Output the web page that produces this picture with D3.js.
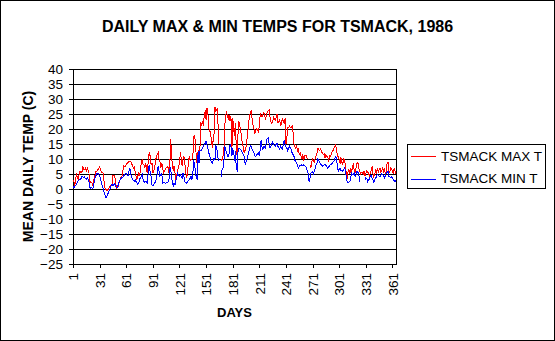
<!DOCTYPE html>
<html><head><meta charset="utf-8">
<script src="https://cdn.jsdelivr.net/npm/d3@7"></script>
<style>html,body{margin:0;padding:0;background:#fff;} svg{display:block;}</style>
</head><body>
<svg id="chart" width="555" height="341"></svg>
<script>
const chartTitle = "DAILY MAX & MIN TEMPS FOR TSMACK, 1986";
const xTitle = "DAYS";
const yTitle = "MEAN DAILY TEMP (C)";
const seriesNames = ["TSMACK MAX T", "TSMACK MIN T"];
const seriesColors = ["#ff0000", "#0000ff"];
const xTickValues = [1,31,61,91,121,151,181,211,241,271,301,331,361];
const yTickValues = [-25,-20,-15,-10,-5,0,5,10,15,20,25,30,35,40];

const maxT = [
3.1,2.5,1.0,3.5,4.8,4.0,3.0,5.0,6.0,5.5,
5.5,7.8,6.4,6.5,7.0,6.0,7.0,6.2,5.3,2.0,
2.5,2.2,1.4,2.2,3.7,4.8,5.9,6.0,6.4,7.0,
7.3,6.4,5.5,5.5,5.3,2.5,0.3,-0.2,-0.4,-0.4,
0.0,0.5,0.9,1.2,1.4,4.4,4.5,4.4,2.2,0.3,
0.5,0.9,2.2,3.1,3.8,4.2,5.3,7.8,7.5,7.6,
8.1,8.5,8.9,9.2,9.3,9.3,8.5,7.8,7.0,7.3,
5.9,4.4,3.3,4.2,5.3,4.4,6.4,8.7,10.0,8.1,
8.1,7.0,8.7,6.2,5.3,10.7,12.2,10.9,8.1,8.7,
5.3,6.0,7.0,9.2,10.9,11.5,12.2,10.0,9.2,7.0,
8.7,7.0,5.3,5.8,6.4,7.0,7.2,7.6,5.3,6.7,
16.7,12.6,7.0,6.4,7.8,5.3,3.1,4.8,6.4,7.5,
8.7,12.2,10.3,7.6,10.0,10.9,8.7,5.9,3.7,5.3,
8.7,10.9,9.5,9.8,10.0,10.3,17.6,17.8,15.3,10.3,
8.1,13.0,10.9,13.1,22.2,21.4,22.2,21.1,25.3,25.9,
23.1,27.0,25.3,20.3,19.5,18.7,16.4,13.7,16.4,18.7,
27.3,25.9,26.4,27.0,15.0,null,null,9.5,9.8,11.0,
12.6,20.9,24.5,25.9,24.5,23.5,24.8,22.6,24.2,12.0,
23.7,20.0,17.6,22.0,14.0,10.9,18.7,22.5,21.0,19.8,
16.4,15.3,13.5,12.0,13.0,14.0,16.5,19.0,22.0,24.5,
25.5,26.0,23.0,21.0,20.0,18.5,19.5,20.0,19.5,19.0,
21.0,25.0,24.5,24.0,25.0,25.5,24.5,23.5,24.5,26.0,
26.0,26.5,24.0,22.5,22.0,22.5,24.0,23.5,23.0,24.0,
25.0,22.0,22.5,23.0,21.0,22.0,23.5,22.5,22.0,23.5,
15.0,17.0,20.5,20.5,21.0,20.5,20.5,21.0,19.0,15.0,
14.0,13.5,14.5,12.5,13.5,11.5,12.0,11.0,10.0,11.5,
9.5,11.0,11.2,11.3,10.0,null,null,8.0,7.0,9.0,
10.0,9.5,9.0,10.5,11.0,12.0,13.5,13.2,12.8,13.3,
12.5,12.0,11.5,11.8,10.5,11.5,11.0,11.0,9.0,11.0,
10.8,11.5,12.5,12.8,13.5,14.0,15.0,12.5,11.5,10.5,
10.0,8.5,10.5,9.0,8.0,10.0,9.5,8.0,5.0,3.5,
6.0,6.5,5.0,7.0,5.5,7.5,8.5,6.0,5.5,7.0,
8.5,9.0,7.0,6.0,5.0,5.5,5.5,5.0,6.0,4.5,
5.0,6.0,5.5,5.5,4.0,5.5,6.0,7.5,5.0,4.0,
5.0,6.0,5.0,7.0,5.5,6.5,7.0,5.5,6.0,7.0,
6.0,7.0,5.0,6.0,8.5,9.0,6.0,5.5,7.0,6.5,
6.0,5.0,7.0,6.0,5.0
];

const minT = [
0.9,0.3,1.0,1.2,1.5,2.5,2.8,3.1,3.0,3.5,
4.2,4.0,3.8,4.0,3.5,3.1,3.7,3.2,2.5,0.5,
0.3,0.5,0.2,0.6,2.5,4.0,4.5,5.1,5.2,4.8,
4.5,3.5,2.2,1.0,0.2,-1.0,-2.0,-2.8,-2.7,-1.8,
-1.2,-0.4,0.3,1.0,1.6,1.2,1.5,1.8,1.0,0.5,
0.5,1.4,2.5,3.1,3.4,3.7,4.0,4.2,4.8,5.0,
5.1,4.5,4.4,5.9,7.0,5.3,4.0,3.1,2.8,2.5,
3.1,2.5,2.0,1.4,2.0,3.1,3.8,4.2,4.8,3.1,
2.5,2.2,2.5,2.3,2.0,7.0,7.8,5.5,4.2,1.4,
1.1,1.5,2.0,2.5,3.5,5.3,7.6,6.0,4.2,4.8,
5.3,2.0,2.2,2.2,2.0,2.0,2.2,2.3,2.5,6.4,
7.0,4.0,2.0,0.9,2.0,1.4,3.0,4.2,5.3,4.5,
4.2,4.8,4.2,3.7,5.3,4.0,2.5,2.0,1.8,2.5,
2.8,3.1,3.6,4.2,3.1,5.0,9.2,8.7,5.3,4.0,
3.1,12.6,8.7,12.6,12.8,13.1,13.7,14.2,14.8,15.3,
15.9,14.8,13.7,12.0,11.4,9.8,8.9,8.7,9.5,10.3,
9.8,14.2,13.7,11.4,9.2,null,null,4.0,6.4,7.0,
8.5,14.2,13.0,12.4,11.0,10.9,12.0,15.0,14.2,10.9,
13.1,12.6,9.5,12.6,7.0,6.4,12.6,13.7,13.5,13.1,
12.5,12.0,11.5,10.9,8.1,9.0,9.8,11.0,12.0,13.7,
14.4,14.0,13.1,12.5,12.0,11.0,10.9,11.4,11.8,12.0,
10.9,13.0,16.4,14.0,13.1,14.2,14.0,13.7,16.4,16.8,
17.0,15.0,13.7,14.2,15.0,15.6,14.8,14.5,14.2,15.0,
15.3,14.2,13.7,13.3,14.2,13.8,13.3,15.0,16.4,14.8,
14.0,13.7,12.6,13.5,14.2,13.7,13.0,12.0,11.5,10.9,
9.5,9.2,8.7,8.0,7.0,7.6,7.8,8.1,7.6,7.8,
8.1,7.8,7.6,7.0,6.0,5.3,2.5,3.5,5.3,5.5,
5.9,4.8,6.0,7.0,8.1,8.7,10.0,9.5,9.2,8.1,
8.0,7.6,7.8,8.0,8.1,7.8,7.6,7.0,7.3,7.6,
8.1,8.3,8.4,9.0,9.2,10.0,11.1,9.8,7.6,5.9,
6.5,7.0,5.9,6.2,5.9,6.5,7.0,6.4,4.0,2.5,
2.2,2.3,2.5,4.0,5.3,4.8,5.0,5.3,4.2,4.8,
5.9,5.5,5.3,2.5,2.2,null,null,null,null,3.1,
3.7,3.6,2.5,3.0,3.1,4.2,4.5,3.7,3.2,2.0,
3.1,3.5,4.2,4.8,4.5,4.2,4.2,4.5,5.1,4.8,
4.4,3.7,4.5,5.3,5.6,5.9,4.2,4.0,3.7,4.0,
3.8,3.1,2.8,2.5,3.1
];

const days = maxT.map((_, i) => i + 1);
const series = [maxT, minT];

const FONT = "'Liberation Sans', Arial, Helvetica, sans-serif";
const W = 555, H = 341;
const plot = {left: 73, right: 396, top: 69, bottom: 264};

const svg = d3.select("#chart");
svg.append("rect").attr("x", 0).attr("y", 0).attr("width", W).attr("height", H).attr("fill", "#fff");
svg.append("rect").attr("x", 0.5).attr("y", 0.5).attr("width", W - 1).attr("height", H - 1)
  .attr("fill", "none").attr("stroke", "#000").attr("stroke-width", 1);

const x = d3.scaleLinear().domain([1, 365]).range([plot.left, plot.right]);
const y = d3.scaleLinear().domain([-25, 40]).range([plot.bottom, plot.top]);

// gridlines
svg.append("g").selectAll("line").data(yTickValues).join("line")
  .attr("x1", plot.left).attr("x2", plot.right)
  .attr("y1", d => y(d) + 0.5).attr("y2", d => y(d) + 0.5)
  .attr("stroke", "#000").attr("stroke-width", 1).attr("shape-rendering", "crispEdges");

// plot frame right side
svg.append("line").attr("x1", plot.right + 0.5).attr("x2", plot.right + 0.5)
  .attr("y1", plot.top).attr("y2", plot.bottom + 1)
  .attr("stroke", "#000").attr("shape-rendering", "crispEdges");

// y axis
const yAxis = d3.axisLeft(y).tickValues(yTickValues).tickSize(4).tickPadding(6).tickSizeOuter(0);
const gy = svg.append("g").attr("transform", `translate(${plot.left},0)`).call(yAxis);
gy.select(".domain").attr("stroke", "#000");
gy.selectAll(".tick line").attr("stroke", "#000");
gy.selectAll("text").attr("font-family", FONT).attr("font-size", 13.5).attr("fill", "#000");
gy.selectAll("line, path").attr("shape-rendering", "crispEdges");

// x axis
const xAxis = d3.axisBottom(x).tickValues(xTickValues).tickSize(4).tickSizeOuter(0).tickFormat(d3.format("d"));
const gx = svg.append("g").attr("transform", `translate(0,${plot.bottom})`).call(xAxis);
gx.select(".domain").attr("stroke", "#000");
gx.selectAll(".tick line").attr("stroke", "#000");
gx.selectAll("line, path").attr("shape-rendering", "crispEdges");
gx.selectAll("text")
  .attr("font-family", FONT).attr("font-size", 13.5).attr("fill", "#000")
  .attr("transform", "rotate(-90)")
  .attr("text-anchor", "end")
  .attr("x", -9).attr("y", 0).attr("dy", "0.35em");

// data lines
const line = d3.line()
  .defined(d => d[1] !== null)
  .x(d => x(d[0]))
  .y(d => y(d[1]));

series.forEach((vals, i) => {
  svg.append("path")
    .datum(days.map((d, j) => [d, vals[j]]))
    .attr("fill", "none")
    .attr("stroke", seriesColors[i])
    .attr("stroke-width", 1)
    .attr("shape-rendering", "crispEdges")
    .attr("d", line);
});

// title
svg.append("text").attr("x", 277.5).attr("y", 32).attr("text-anchor", "middle")
  .attr("font-family", FONT).attr("font-size", 16).attr("font-weight", "bold").text(chartTitle);

// x title
svg.append("text").attr("x", (plot.left + plot.right) / 2).attr("y", 317).attr("text-anchor", "middle")
  .attr("font-family", FONT).attr("font-size", 13).attr("font-weight", "bold").text(xTitle);

// y title
svg.append("text")
  .attr("transform", `translate(28,${(plot.top + plot.bottom) / 2}) rotate(-90)`)
  .attr("text-anchor", "middle").attr("dy", "0.35em")
  .attr("font-family", FONT).attr("font-size", 14).attr("font-weight", "bold").text(yTitle);

// legend
const lg = svg.append("g");
lg.append("rect").attr("x", 407.5).attr("y", 144.5).attr("width", 138).attr("height", 44)
  .attr("fill", "#fff").attr("stroke", "#000").attr("shape-rendering", "crispEdges");
seriesNames.forEach((name, i) => {
  const cy = 156 + i * 22.5;
  lg.append("line").attr("x1", 411).attr("x2", 436).attr("y1", cy + 0.5).attr("y2", cy + 0.5)
    .attr("stroke", seriesColors[i]).attr("shape-rendering", "crispEdges");
  lg.append("text").attr("x", 441).attr("y", cy).attr("dy", "0.35em")
    .attr("font-family", FONT).attr("font-size", 13.5).attr("fill", "#000").text(name);
});
</script>
</body></html>
